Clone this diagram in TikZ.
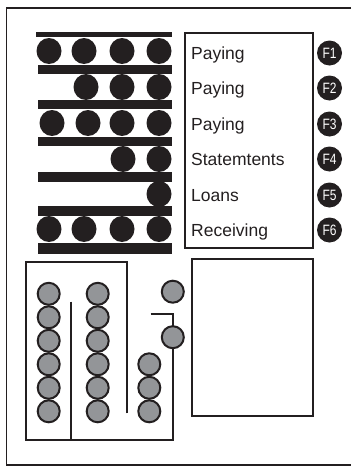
\documentclass[tikz,border=0pt]{standalone}
\usepackage{fontspec}
\setmainfont{Liberation Sans}
\usetikzlibrary{shapes.geometric}
\definecolor{ink}{HTML}{231F20}
\definecolor{bead}{HTML}{939598}
\begin{document}
\begin{tikzpicture}[x=1pt,y=-1pt,
  bar/.style={fill=ink,draw=none},
  blackbead/.style={fill=ink,draw=none},
  wire/.style={draw=ink,line width=2pt},
  graybead/.style={fill=bead,draw=ink,line width=2pt},
  menutext/.style={anchor=base west,inner sep=0pt,font=\fontsize{17.5}{20}\selectfont,text=ink},
  fkey/.style={circle,fill=ink,minimum size=25pt,inner sep=0pt,text=white,
    font=\fontsize{15}{15}\selectfont},
  panel/.style={draw=ink,line width=2pt}]
\useasboundingbox (0,0) rectangle (351,466);

% outer frame, open to the right
\draw[ink,line width=1.8pt] (351,8) -- (6.5,8) -- (6.5,465) -- (351,465);

% abacus rails
\fill[bar] (36,32) rectangle (172,37);
\foreach \top/\bot in {65/74,100/109,137/146,172/182,206/216,243/254}
  \fill[bar] (38,\top) rectangle (172,\bot);

% abacus beads
\foreach \x/\y in {49/51,84/51,122/51,159/51,
                   86/87,122/87,159/87,
                   52/123,88/123,122/123,159/123,
                   123/159,159/159,
                   159/194,
                   49/229,84/229,122/229,159/229}
  \fill[blackbead] (\x,\y) ellipse [x radius=12.5pt,y radius=13pt];

% function menu
\node[panel,draw,minimum width=128pt,minimum height=215pt,anchor=north west,inner sep=0pt]
  (menu) at (183.5,32) {};
\foreach \i/\t/\y in {1/Paying/53,2/Paying/88,3/Paying/124,4/Statemtents/159,5/Loans/195,6/Receiving/230}{
  \node[menutext] (m\i) at (191,\y+6.3) {\t};
  \node[fkey] (f\i) at (329.5,\y) {\scalebox{0.8}[1]{F\i}};
}

% display panel
\node[panel,draw,minimum width=121pt,minimum height=157pt,anchor=north west,inner sep=0pt]
  (screen) at (191,258) {};

% coin tray outline
\draw[wire] (127.3,413.3) -- (127.3,261.7) -- (26,261.7) -- (26,440) -- (172.8,440) -- (172.8,348);
\draw[wire] (71,301.7) -- (71,440);
\draw[wire] (150.7,314) -- (172.8,314) -- (172.8,326);

% coins
\foreach \y in {293.8,317.3,340.8,364.3,387.8,411.3}{
  \draw[graybead] (48.7,\y) circle (11pt);
  \draw[graybead] (97.7,\y) circle (11pt);
}
\foreach \y in {364.3,387.8,411.3}
  \draw[graybead] (149.3,\y) circle (11pt);
\node[graybead,circle,minimum size=22pt,inner sep=0pt] (c1) at (172.8,291.7) {};
\node[graybead,circle,minimum size=22pt,inner sep=0pt] (c2) at (172.8,337.2) {};
\end{tikzpicture}
\end{document}
